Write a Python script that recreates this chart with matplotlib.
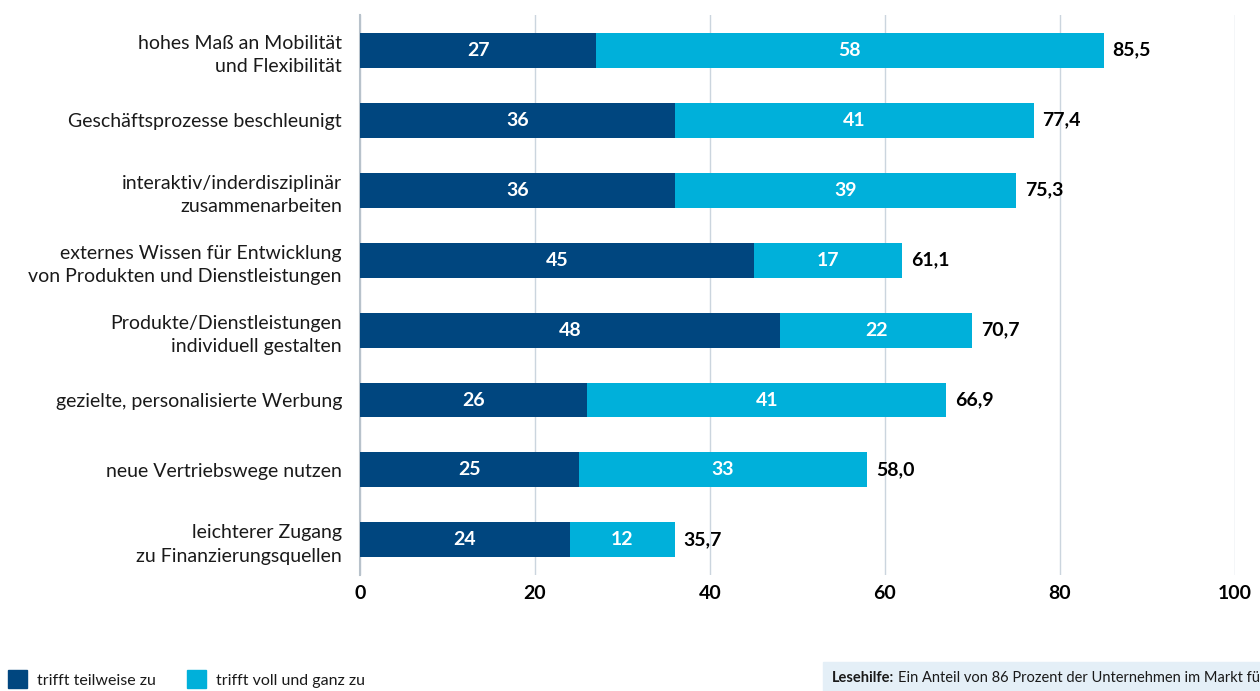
import matplotlib.pyplot as plt
from matplotlib.patches import Rectangle

CATEGORIES = [
    "hohes Maß an Mobilität\nund Flexibilität",
    "Geschäftsprozesse beschleunigt",
    "interaktiv/inderdisziplinär\nzusammenarbeiten",
    "externes Wissen für Entwicklung\nvon Produkten und Dienstleistungen",
    "Produkte/Dienstleistungen\nindividuell gestalten",
    "gezielte, personalisierte Werbung",
    "neue Vertriebswege nutzen",
    "leichterer Zugang\nzu Finanzierungsquellen",
]
TEILWEISE = [27, 36, 36, 45, 48, 26, 25, 24]
VOLL = [58, 41, 39, 17, 22, 41, 33, 12]
TOTALS = ["85,5", "77,4", "75,3", "61,1", "70,7", "66,9", "58,0", "35,7"]
XTICKS = [0, 20, 40, 60, 80, 100]

DARK = '#00467f'
LIGHT = '#00b0da'
GRID = '#cbd5de'
FS = 14

plt.rcParams['font.family'] = ['Lato', 'DejaVu Sans']

fig = plt.figure(figsize=(12.6, 6.91), dpi=100)
ax = fig.add_axes([0.2857, 0.168, 0.6944, 0.810])

y = list(range(len(CATEGORIES)))
ax.barh(y, TEILWEISE, height=0.5, color=DARK, zorder=3)
ax.barh(y, VOLL, left=TEILWEISE, height=0.5, color=LIGHT, zorder=3)

for i in y:
    a, b = TEILWEISE[i], VOLL[i]
    ax.text(a / 2, i, str(a), ha='center', va='center', color='white',
            fontsize=FS, fontweight='bold', zorder=4)
    ax.text(a + b / 2, i, str(b), ha='center', va='center', color='white',
            fontsize=FS, fontweight='bold', zorder=4)
    ax.text(a + b + 1.0, i, TOTALS[i], ha='left', va='center', color='black',
            fontsize=FS, fontweight='bold', zorder=4)

ax.set_xlim(0, 100)
ax.set_ylim(len(CATEGORIES) - 0.5, -0.5)
ax.set_xticks(XTICKS)
ax.set_xticklabels([str(t) for t in XTICKS], fontsize=FS, fontweight='bold')
ax.set_yticks(y)
ax.set_yticklabels(CATEGORIES, fontsize=FS, color='#1a1a1a', linespacing=1.45)
ax.tick_params(axis='both', length=0)
ax.tick_params(axis='x', pad=7)
ax.tick_params(axis='y', pad=13)
ax.grid(axis='x', color=GRID, linewidth=1, zorder=0)
for s in ['top', 'right', 'bottom']:
    ax.spines[s].set_visible(False)
ax.spines['left'].set_color('#b8c2cb')
ax.spines['left'].set_linewidth(1.5)

# legend
fig.patches.append(Rectangle((8 / 1260, 3 / 691), 19 / 1260, 18 / 691,
                             transform=fig.transFigure, color=DARK))
fig.text(37 / 1260, 3 / 691, "trifft teilweise zu", fontsize=11.5, va='bottom', color='#1a1a1a')
fig.patches.append(Rectangle((187 / 1260, 3 / 691), 19 / 1260, 18 / 691,
                             transform=fig.transFigure, color=LIGHT))
fig.text(216 / 1260, 3 / 691, "trifft voll und ganz zu", fontsize=11.5, va='bottom', color='#1a1a1a')

# reading aid box
fig.patches.append(Rectangle((823 / 1260, 0), 440 / 1260, 29 / 691,
                             transform=fig.transFigure, color='#e4eff7'))
bold = fig.text(832 / 1260, 6 / 691, "Lesehilfe:", fontsize=10.5, fontweight='bold',
                va='bottom', color='#1a1a1a')
fig.canvas.draw()
bb = bold.get_window_extent()
fig.text((bb.x1 + 4) / 1260, 6 / 691, "Ein Anteil von 86 Prozent der Unternehmen im Markt für",
         fontsize=10.5, va='bottom', color='#1a1a1a')

fig.savefig('out.png', dpi=100)
